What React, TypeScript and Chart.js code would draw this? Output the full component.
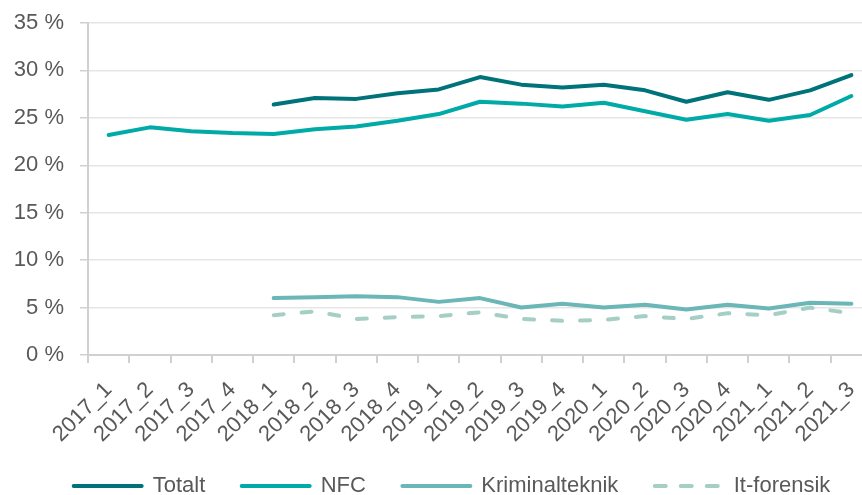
import React, { useEffect, useRef } from "react";
import { Chart, registerables } from "chart.js";

Chart.register(...registerables);

const categories = [
  "2017_1", "2017_2", "2017_3", "2017_4",
  "2018_1", "2018_2", "2018_3", "2018_4",
  "2019_1", "2019_2", "2019_3", "2019_4",
  "2020_1", "2020_2", "2020_3", "2020_4",
  "2021_1", "2021_2", "2021_3",
];

const totalt = [null, null, null, null, 26.4, 27.1, 27.0, 27.6, 28.0, 29.3, 28.5, 28.2, 28.5, 27.9, 26.7, 27.7, 26.9, 27.9, 29.5];
const nfc = [23.2, 24.0, 23.6, 23.4, 23.3, 23.8, 24.1, 24.7, 25.4, 26.7, 26.5, 26.2, 26.6, 25.7, 24.8, 25.4, 24.7, 25.3, 27.3];
const kriminalteknik = [null, null, null, null, 6.0, 6.1, 6.2, 6.1, 5.6, 6.0, 5.0, 5.4, 5.0, 5.3, 4.8, 5.3, 4.9, 5.5, 5.4];
const itForensik = [null, null, null, null, 4.2, 4.6, 3.8, 4.0, 4.1, 4.5, 3.8, 3.6, 3.7, 4.1, 3.8, 4.4, 4.2, 5.0, 4.4];

const yTicks = [0, 5, 10, 15, 20, 25, 30, 35];

const FONT = "'Liberation Sans', Arial, sans-serif";
const TEXT = "#595959";

const legendShift = {
  id: "legendShift",
  afterLayout(chart: any) {
    if (chart.legend) chart.legend.left += 18;
  },
};

export default function App() {
  const ref = useRef<HTMLCanvasElement>(null);

  useEffect(() => {
    document.body.style.margin = "0";
    const ctx = ref.current!;
    const chart = new Chart(ctx, {
      type: "line",
      data: {
        labels: categories,
        datasets: [
          { label: "Totalt", data: totalt, borderColor: "#00727A", backgroundColor: "#00727A", borderWidth: 4 },
          { label: "NFC", data: nfc, borderColor: "#00AAA7", backgroundColor: "#00AAA7", borderWidth: 4 },
          { label: "Kriminalteknik", data: kriminalteknik, borderColor: "#6BB6B6", backgroundColor: "#6BB6B6", borderWidth: 4 },
          { label: "It-forensik", data: itForensik, borderColor: "#A5CFC5", backgroundColor: "#A5CFC5", borderWidth: 4, borderDash: [10, 18] },
        ] as any,
      },
      plugins: [legendShift],
      options: {
        animation: false,
        responsive: false,
        maintainAspectRatio: false,
        layout: { padding: { left: 14, right: 0, top: 23, bottom: -12 } },
        elements: {
          point: { radius: 0, hoverRadius: 0 },
          line: { tension: 0, borderJoinStyle: "round", borderCapStyle: "round" },
        },
        plugins: {
          legend: {
            position: "bottom",
            labels: {
              usePointStyle: true,
              pointStyle: "line",
              pointStyleWidth: 68,
              boxWidth: 68,
              boxHeight: 22,
              padding: 12,
              color: TEXT,
              font: { family: FONT, size: 22 },
              generateLabels: (c: any) => {
                const items = Chart.defaults.plugins.legend.labels.generateLabels(c);
                return items.map((it: any, i: number) => {
                  const ds: any = c.data.datasets[it.datasetIndex];
                  const last = i === items.length - 1;
                  return {
                    ...it,
                    text: it.text + (last ? "" : "    "),
                    lineDash: ds.borderDash ? [11, 15] : [],
                    lineCap: "round",
                    lineWidth: 4,
                    strokeStyle: ds.borderColor,
                    fillStyle: ds.borderColor,
                  };
                });
              },
            },
          },
          tooltip: { enabled: false },
        },
        scales: {
          x: {
            offset: true,
            afterFit: (s: any) => {
              s.height = 108;
              s.paddingLeft = 0;
              s.paddingRight = 0;
            },
            grid: { offset: true, drawOnChartArea: false, drawTicks: true, tickLength: 8, color: "#d0d0d0", lineWidth: 2 },
            border: { color: "#d0d0d0", width: 2 },
            ticks: {
              color: TEXT,
              font: { family: FONT, size: 22 },
              maxRotation: 45,
              minRotation: 45,
              autoSkip: false,
              padding: 14,
            },
          },
          y: {
            min: 0,
            max: 35,
            afterBuildTicks: (axis: any) => {
              axis.ticks = yTicks.map((v) => ({ value: v }));
            },
            afterFit: (s: any) => {
              s.width = 74;
              s.paddingTop = 0;
              s.paddingBottom = 0;
            },
            grid: { color: "#e6e6e6", lineWidth: 1.5, tickLength: 8, tickColor: "#d0d0d0" },
            border: { color: "#d0d0d0", width: 2 },
            ticks: {
              color: TEXT,
              font: { family: FONT, size: 22 },
              padding: 16,
              callback: (v: any) => `${v} %`,
            },
          },
        },
      },
    });
    return () => chart.destroy();
  }, []);

  return (
    <div style={{ width: 862, height: 495, overflow: "hidden", position: "relative" }}>
      <canvas ref={ref} width={872} height={495} style={{ width: 872, height: 495, display: "block" }} />
    </div>
  );
}
